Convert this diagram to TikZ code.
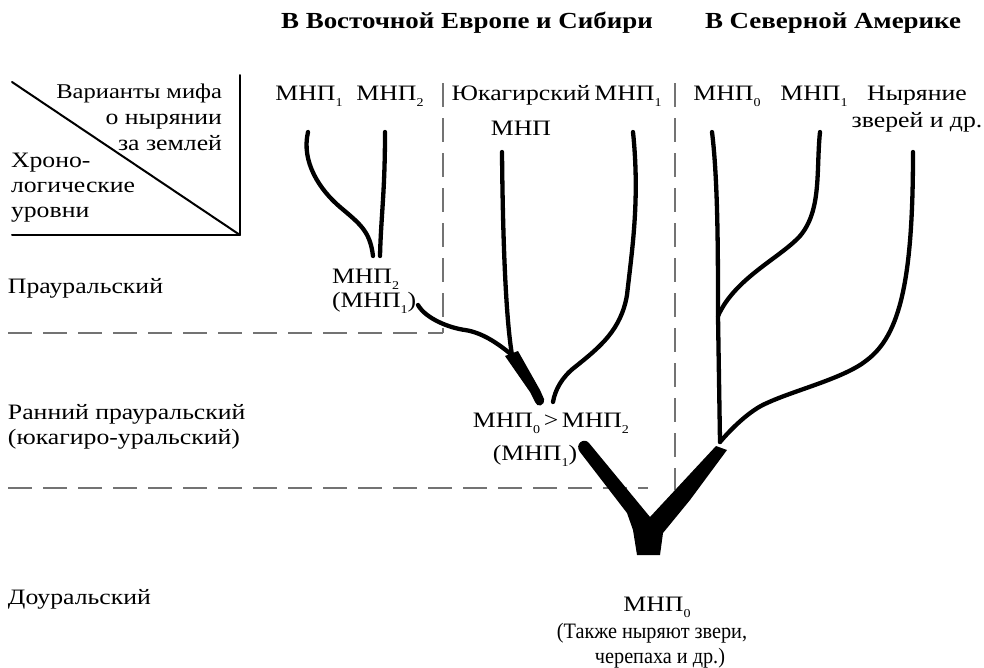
\documentclass[tikz,border=0pt]{standalone}
\usepackage{fontspec}
\setmainfont{Liberation Serif}[FakeStretch=1.17]
\newfontfamily\narrowfont{Liberation Serif}[FakeStretch=0.92]
\newcommand\sbs[1]{\raisebox{-0.6ex}{\fontsize{12}{12}\selectfont #1}}
\newcommand\mnp[1]{МНП\sbs{#1}}
\begin{document}
\begin{tikzpicture}[x=1pt,y=-1pt,line join=round,
  every node/.style={inner sep=0pt,outer sep=0pt,font=\fontsize{22}{25}\selectfont},
  hdr/.style={font=\fontsize{23}{25}\selectfont\bfseries},
  branch/.style={line width=4.3pt,line cap=round},
  guide/.style={draw=black!55,line width=1.8pt,dash pattern=on 24pt off 11pt},
  frm/.style={line width=2pt,line cap=round}]
\useasboundingbox (0,0) rectangle (984,667);

% headers
\node[hdr,anchor=base] (h1) at (467,28) {В Восточной Европе и Сибири};
\node[hdr,anchor=base] (h2) at (833,28) {В Северной Америке};

% corner box
\coordinate (bxa) at (12,82);
\coordinate (bxb) at (240,235);
\coordinate (bxc) at (240,75);
\coordinate (bxd) at (12,235);
\draw[frm] (bxa) -- (bxb);
\draw[frm] (bxc) -- (bxb) -- (bxd);
\node[anchor=base east,align=right] (var) at (222,150) {\fontsize{21}{25}\selectfont Варианты мифа\\[1pt]о нырянии\\[1pt]за землей};
\node[anchor=base west,align=left] (chr) at (11,217) {Хроно-\\логические\\уровни};

% row labels
\node[anchor=base west] (r1) at (8,293) {Прауральский};
\node[anchor=base west,align=left] (r2) at (8,444) {Ранний прауральский\\(юкагиро-уральский)};
\node[anchor=base west] (r3) at (8,604) {Доуральский};

% dashed guides
\coordinate (g1a) at (443,83);
\coordinate (g1b) at (443,333);
\coordinate (g1c) at (8,333);
\coordinate (g2a) at (675,83);
\coordinate (g2b) at (675,490);
\coordinate (g2c) at (8,488);
\coordinate (g2d) at (648,488);
\draw[guide] (g1a) -- (g1b);
\draw[guide] (g1c) -- (g1b);
\draw[guide] (g2a) -- (g2b);
\draw[guide] (g2c) -- (g2d);

% top labels
\node[anchor=base] (t1) at (309,100) {\mnp{1}};
\node[anchor=base] (t2) at (390,100) {\mnp{2}};
\node[anchor=base,align=center] (t3) at (521,135) {Юкагирский\\[10pt]МНП};
\node[anchor=base] (t4) at (628,100) {\mnp{1}};
\node[anchor=base] (t5) at (727,100) {\mnp{0}};
\node[anchor=base] (t6) at (814,100) {\mnp{1}};
\node[anchor=base,align=center] (t7) at (917,127) {Ныряние\\[2pt]зверей и др.};

% middle labels
\node[anchor=base west,align=left] (m1) at (332,307) {\mnp{2}\\[-1pt](\mnp{1})};
\node[anchor=base,align=center] (m2) at (551,460) {\mnp{0}\,>\,\mnp{2}\\[8pt]\hspace*{-32pt}(\mnp{1})};
\node[anchor=base,align=center] (m3) at (652,663) {\hspace*{10pt}\mnp{0}\\[2pt]\narrowfont\fontsize{22}{25}\selectfont(Также ныряют звери,\\\narrowfont\fontsize{22}{24}\selectfont\hspace*{16pt}черепаха и др.)};

% branch end points
\coordinate (l1a) at (308,132);
\coordinate (l1m) at (340,207);
\coordinate (l1b) at (373,256);
\coordinate (l2a) at (385,132);
\coordinate (l2b) at (380,256);
\coordinate (ya) at (502,152);
\coordinate (ej) at (512,355);
\coordinate (eaa) at (418,305);
\coordinate (eam) at (465,330);
\coordinate (e1a) at (633,132);
\coordinate (e1m) at (627,295);
\coordinate (e1n) at (575,367);
\coordinate (e1b) at (553,402);
\coordinate (n0a) at (712,132);
\coordinate (nj) at (720,442);
\coordinate (nj1) at (718,316);
\coordinate (n1a) at (820,132);
\coordinate (n1m) at (800,236);
\coordinate (nya) at (913,152);
\coordinate (nym) at (867,360);
\coordinate (nyn) at (767,403);

% Eastern Europe / Siberia
\draw[branch] (l1a) .. controls +(-7,30) and +(-20,-17) .. (l1m) .. controls +(20,17) and +(-3,-25) .. (l1b);
\draw[branch] (l2a) .. controls +(0,60) and +(1,-40) .. (l2b);
\draw[branch] (ya) .. controls +(1,110) and +(-5,-30) .. (ej);
\draw[branch] (eaa) .. controls +(8,14) and +(-15,-2) .. (eam) .. controls +(20,3) and +(-10,-8) .. (ej);
\fill (505,356) -- (530,392) -- (535,402) .. controls (537,408) and (545,406) .. (544,399) -- (540,390) -- (518,351) -- cycle;
\draw[branch] (e1a) .. controls +(7,68) and +(5,-45) .. (e1m) .. controls +(-6,35) and +(25,-20) .. (e1n) .. controls +(-13,10) and +(2,-12) .. (e1b);

% North America
\draw[branch] (n0a) .. controls +(6,48) and +(0,-60) .. (nj1) -- (nj);
\draw[branch] (n1a) .. controls +(-4,38) and +(22,-26) .. (n1m) .. controls +(-20,22) and +(17,-38) .. (nj1);
\draw[branch] (nya) .. controls +(0,128) and +(33,-25) .. (nym) .. controls +(-22,18) and +(28,-13) .. (nyn) .. controls +(-17,7) and +(11,-13) .. (nj);

% trunk
\fill (580,452) -- (627,513) -- (633,530) -- (637,555) -- (660,555) -- (663,533) -- (690,500) -- (727,450) -- (716,446) -- (650,517) -- (589,443) .. controls (584,437) and (574,444) .. (580,452) -- cycle;
\end{tikzpicture}
\end{document}
